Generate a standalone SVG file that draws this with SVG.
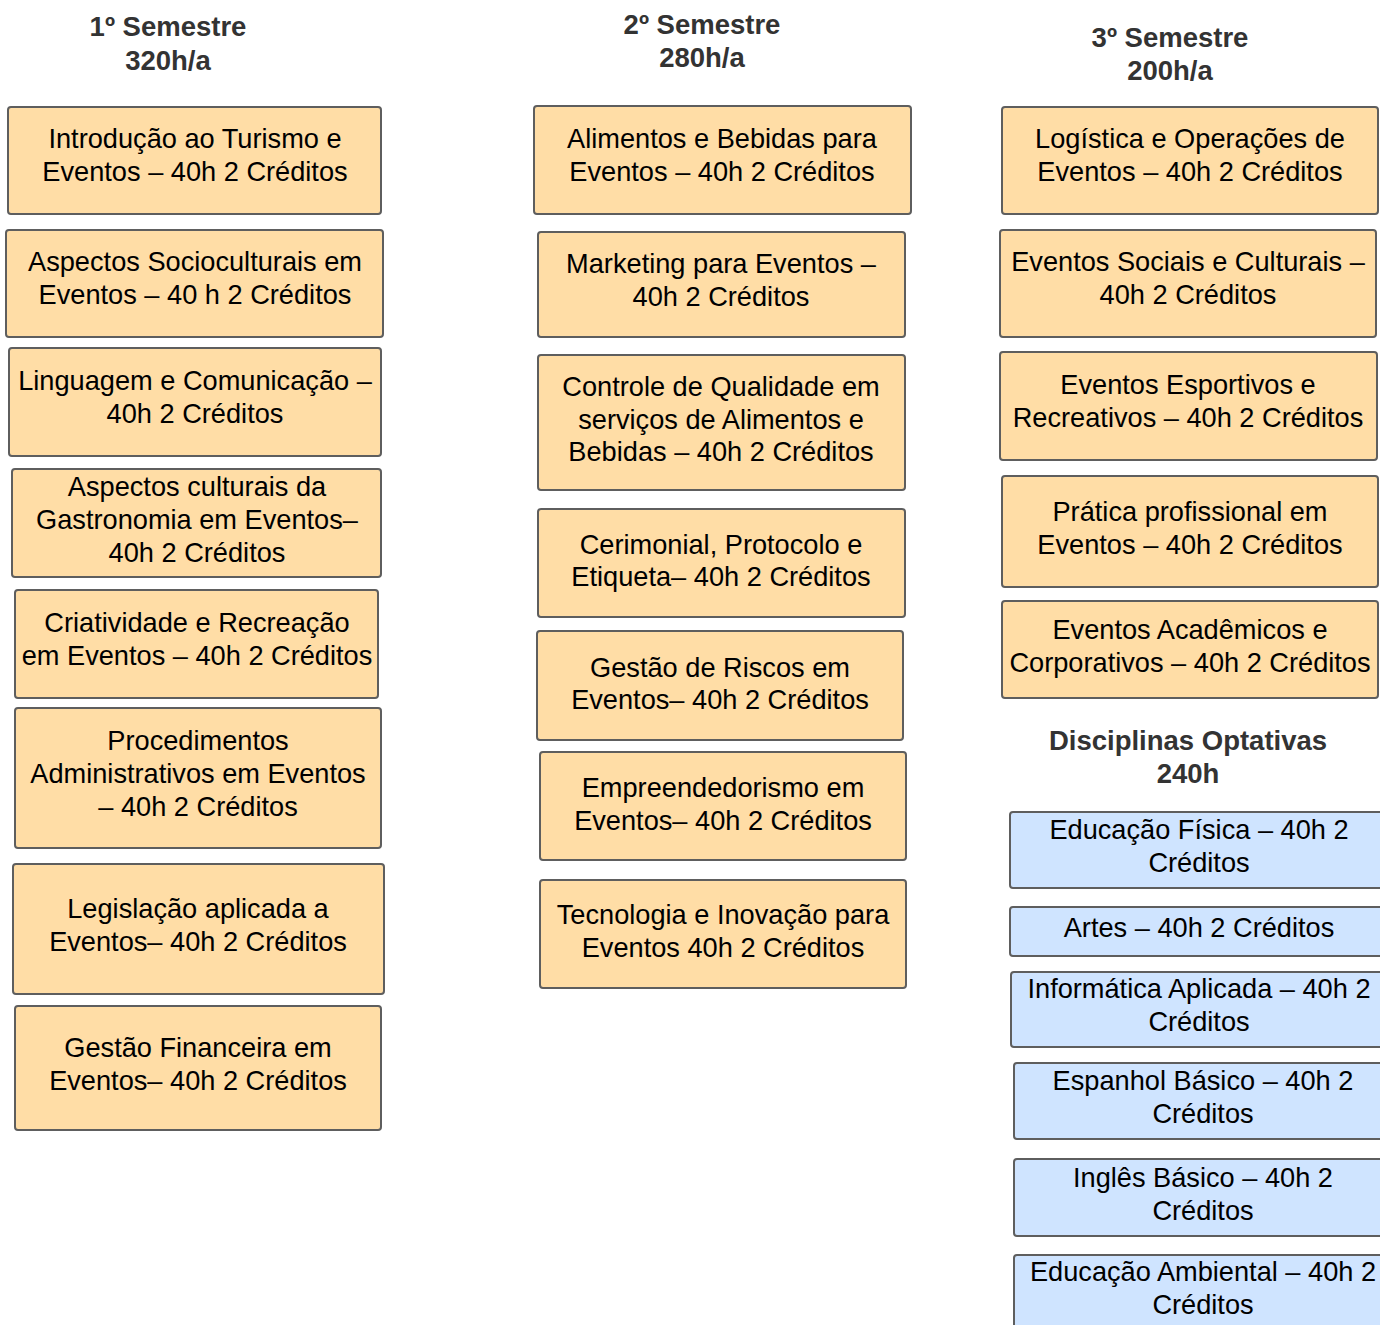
<svg xmlns="http://www.w3.org/2000/svg" width="1380" height="1325" viewBox="0 0 1380 1325">
<style>
.o{fill:#FFDDA6;stroke:#5E5E5E;stroke-width:2}
.b{fill:#CFE4FF;stroke:#5E5E5E;stroke-width:2}
.t{font-family:"Liberation Sans",Arial,sans-serif;font-size:27.2px;fill:#000;text-anchor:middle}
.h{font-family:"Liberation Sans",Arial,sans-serif;font-size:27.5px;font-weight:bold;fill:#333;text-anchor:middle}
</style>
<rect width="1380" height="1325" fill="#fff"/>
<g id="headers">
<text class="h" x="168" y="36">1º Semestre</text>
<text class="h" x="168" y="70">320h/a</text>
<text class="h" x="702" y="34">2º Semestre</text>
<text class="h" x="702" y="67">280h/a</text>
<text class="h" x="1170" y="47">3º Semestre</text>
<text class="h" x="1170" y="80">200h/a</text>
<text class="h" x="1188" y="750">Disciplinas Optativas</text>
<text class="h" x="1188" y="783">240h</text>
</g>
<g id="s1n1"><rect class="o" x="8" y="107" width="373" height="107" rx="3"/><text class="t" x="195" y="148">Introdução ao Turismo e</text><text class="t" x="195" y="181">Eventos – 40h 2 Créditos</text></g>
<g id="s1n2"><rect class="o" x="6" y="230" width="377" height="107" rx="3"/><text class="t" x="195" y="271">Aspectos Socioculturais em</text><text class="t" x="195" y="304">Eventos – 40 h 2 Créditos</text></g>
<g id="s1n3"><rect class="o" x="9" y="348" width="372" height="108" rx="3"/><text class="t" x="195" y="390">Linguagem e Comunicação –</text><text class="t" x="195" y="423">40h 2 Créditos</text></g>
<g id="s1n4"><rect class="o" x="12" y="469" width="369" height="108" rx="3"/><text class="t" x="197" y="496">Aspectos culturais da</text><text class="t" x="197" y="529">Gastronomia em Eventos–</text><text class="t" x="197" y="562">40h 2 Créditos</text></g>
<g id="s1n5"><rect class="o" x="15" y="590" width="363" height="108" rx="3"/><text class="t" x="197" y="632">Criatividade e Recreação</text><text class="t" x="197" y="665">em Eventos – 40h 2 Créditos</text></g>
<g id="s1n6"><rect class="o" x="15" y="708" width="366" height="140" rx="3"/><text class="t" x="198" y="750">Procedimentos</text><text class="t" x="198" y="783">Administrativos em Eventos</text><text class="t" x="198" y="816">– 40h 2 Créditos</text></g>
<g id="s1n7"><rect class="o" x="13" y="864" width="371" height="130" rx="3"/><text class="t" x="198" y="918">Legislação aplicada a</text><text class="t" x="198" y="951">Eventos– 40h 2 Créditos</text></g>
<g id="s1n8"><rect class="o" x="15" y="1006" width="366" height="124" rx="3"/><text class="t" x="198" y="1057">Gestão Financeira em</text><text class="t" x="198" y="1090">Eventos– 40h 2 Créditos</text></g>
<g id="s2n1"><rect class="o" x="534" y="106" width="377" height="108" rx="3"/><text class="t" x="722" y="148">Alimentos e Bebidas para</text><text class="t" x="722" y="181">Eventos – 40h 2 Créditos</text></g>
<g id="s2n2"><rect class="o" x="538" y="232" width="367" height="105" rx="3"/><text class="t" x="721" y="273">Marketing para Eventos –</text><text class="t" x="721" y="306">40h 2 Créditos</text></g>
<g id="s2n3"><rect class="o" x="538" y="355" width="367" height="135" rx="3"/><text class="t" x="721" y="396">Controle de Qualidade em</text><text class="t" x="721" y="429">serviços de Alimentos e</text><text class="t" x="721" y="461">Bebidas – 40h 2 Créditos</text></g>
<g id="s2n4"><rect class="o" x="538" y="509" width="367" height="108" rx="3"/><text class="t" x="721" y="554">Cerimonial, Protocolo e</text><text class="t" x="721" y="586">Etiqueta– 40h 2 Créditos</text></g>
<g id="s2n5"><rect class="o" x="537" y="631" width="366" height="109" rx="3"/><text class="t" x="720" y="677">Gestão de Riscos em</text><text class="t" x="720" y="709">Eventos– 40h 2 Créditos</text></g>
<g id="s2n6"><rect class="o" x="540" y="752" width="366" height="108" rx="3"/><text class="t" x="723" y="797">Empreendedorismo em</text><text class="t" x="723" y="830">Eventos– 40h 2 Créditos</text></g>
<g id="s2n7"><rect class="o" x="540" y="880" width="366" height="108" rx="3"/><text class="t" x="723" y="924">Tecnologia e Inovação para</text><text class="t" x="723" y="957">Eventos 40h 2 Créditos</text></g>
<g id="s3n1"><rect class="o" x="1002" y="107" width="376" height="107" rx="3"/><text class="t" x="1190" y="148">Logística e Operações de</text><text class="t" x="1190" y="181">Eventos – 40h 2 Créditos</text></g>
<g id="s3n2"><rect class="o" x="1000" y="230" width="376" height="107" rx="3"/><text class="t" x="1188" y="271">Eventos Sociais e Culturais –</text><text class="t" x="1188" y="304">40h 2 Créditos</text></g>
<g id="s3n3"><rect class="o" x="1000" y="352" width="377" height="108" rx="3"/><text class="t" x="1188" y="394">Eventos Esportivos e</text><text class="t" x="1188" y="427">Recreativos – 40h 2 Créditos</text></g>
<g id="s3n4"><rect class="o" x="1002" y="476" width="376" height="111" rx="3"/><text class="t" x="1190" y="521">Prática profissional em</text><text class="t" x="1190" y="554">Eventos – 40h 2 Créditos</text></g>
<g id="s3n5"><rect class="o" x="1002" y="601" width="376" height="97" rx="3"/><text class="t" x="1190" y="639">Eventos Acadêmicos e</text><text class="t" x="1190" y="672">Corporativos – 40h 2 Créditos</text></g>
<g id="op1"><rect class="b" x="1010" y="812" width="380" height="76" rx="3"/><text class="t" x="1199" y="839">Educação Física – 40h 2</text><text class="t" x="1199" y="872">Créditos</text></g>
<g id="op2"><rect class="b" x="1010" y="907" width="380" height="49" rx="3"/><text class="t" x="1199" y="937">Artes – 40h 2 Créditos</text></g>
<g id="op3"><rect class="b" x="1011" y="972" width="380" height="75" rx="3"/><text class="t" x="1199" y="998">Informática Aplicada – 40h 2</text><text class="t" x="1199" y="1031">Créditos</text></g>
<g id="op4"><rect class="b" x="1014" y="1063" width="380" height="76" rx="3"/><text class="t" x="1203" y="1090">Espanhol Básico – 40h 2</text><text class="t" x="1203" y="1123">Créditos</text></g>
<g id="op5"><rect class="b" x="1014" y="1159" width="380" height="77" rx="3"/><text class="t" x="1203" y="1187">Inglês Básico – 40h 2</text><text class="t" x="1203" y="1220">Créditos</text></g>
<g id="op6"><rect class="b" x="1014" y="1255" width="380" height="90" rx="3"/><text class="t" x="1203" y="1281">Educação Ambiental – 40h 2</text><text class="t" x="1203" y="1314">Créditos</text></g>
<g id="connectors"></g>
</svg>
